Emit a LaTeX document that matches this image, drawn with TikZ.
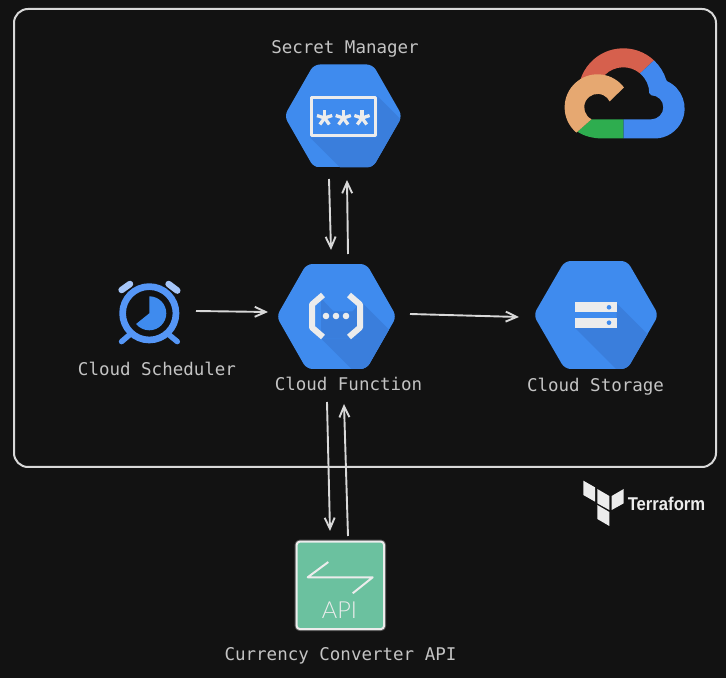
\documentclass[tikz,border=0pt]{standalone}
\usepackage{fontspec}
\usetikzlibrary{arrows.meta}
\setmonofont{DejaVu Sans Mono}
\newfontfamily\apifont{Lato Light}
\newfontfamily\tfont{Liberation Sans}
\definecolor{bgdark}{HTML}{121212}
\definecolor{framegray}{HTML}{D8D8D8}
\definecolor{labelgray}{HTML}{C4C4C4}
\definecolor{hexblue}{HTML}{3F8BEE}
\definecolor{hexshade}{HTML}{3A7EDC}
\definecolor{iconwhite}{HTML}{ECECEC}
\definecolor{clockblue}{HTML}{5596F6}
\definecolor{clockpale}{HTML}{A6C6F9}
\definecolor{gred}{HTML}{D6604D}
\definecolor{gblue}{HTML}{4188EE}
\definecolor{ggreen}{HTML}{2EAD4F}
\definecolor{gorange}{HTML}{E6A871}
\definecolor{apigreen}{HTML}{6BC19F}
\tikzset{
  boxlabel/.style={font=\ttfamily\fontsize{17.5}{20}\selectfont,text=labelgray,inner sep=0pt},
  flowarrow/.style={-{Straight Barb[length=11pt,width=10pt]},line width=1.9pt,color=framegray}
}
\newcommand{\hexicon}[8]{%
  \begin{scope}
    \clip[shift={(#1,#2)},rounded corners=6pt] (0,#4) -- ({#3/2},#4) -- (#3,0) -- ({#3/2},-#4) -- ({-#3/2},-#4) -- (-#3,0) -- ({-#3/2},#4) -- cycle;
    \fill[hexblue] (#1-#3,#2-#4) rectangle (#1+#3,#2+#4);
    \fill[hexshade,shift={(#1,#2)}] (#5,#6) -- (#5,#8) -- (#7,#8) -- ++(80,-80) -- ({#5+80},{#6-80}) -- cycle;
  \end{scope}}

\begin{document}
\begin{tikzpicture}[line join=round,x=1pt,y=1pt]
  \useasboundingbox (0,0) rectangle (726,678);
  \fill[bgdark] (0,0) rectangle (726,678);
  \draw[line width=2pt,color=framegray,rounded corners=14pt] (14,211) rectangle (716,669);

  % secret manager
  \hexicon{343.3}{562}{59}{51.5}{34}{20}{-33.3}{-21.3}
  \draw[line width=3.3pt,color=iconwhite] (311.7,542.3) rectangle (375.7,580.3);
  \foreach \sx in {324.6,343.3,362}
    \foreach \sa in {18,90,162,234,306}
      \draw[line width=3.3pt,color=iconwhite] (\sx,560) -- ++(\sa:8);
  \node[boxlabel] (secretlabel) at (345,629) {Secret Manager};

  % google cloud logo
  \begin{scope}[shift={(623.3,584.7)}]
    \fill[gred] (47:45) arc (47:163:45) -- (135:26) arc (135:50:26) -- cycle;
    \fill[gblue] (47:45) arc (47:17:45) -- (44,12) arc (65:-90:30) -- (0,-45.2) -- (0,-26) -- (28,-26) arc (-90:90:12) -- (26,0) arc (0:50:26) -- cycle;
    \fill[ggreen] (-46,-38.3) -- (-31.7,-26) -- (0,-26) -- (0,-45.2) -- (-20,-45.2) .. controls (-30,-45.2) and (-39,-43) .. (-46,-38.3) -- cycle;
    \fill[gorange,shift={(-25.7,-14)}] (37:33) arc (37:230:33) -- (243:13.4) arc (243:26:13.4) -- cycle;
  \end{scope}

  % cloud scheduler
  \begin{scope}[shift={(149.3,364.7)}]
    \draw[line width=6.5pt,line cap=round,color=clockpale] (-27.7,23.3) -- (-19.3,29.3);
    \draw[line width=6.5pt,line cap=round,color=clockpale] (19.3,29.3) -- (28,22.7);
    \draw[line width=5.5pt,line cap=round,color=clockblue] (-27.7,-28.3) -- (-20,-21.7);
    \draw[line width=5.5pt,line cap=round,color=clockblue] (20,-21.7) -- (28,-28.3);
    \fill[bgdark] (0,0) circle (28);
    \draw[line width=6.7pt,color=clockblue] (0,0) circle (26.7);
    \fill[hexblue] (0,0) -- (90:17) arc (90:-141:17) -- cycle;
  \end{scope}
  \node[boxlabel] (schedulerlabel) at (157,309) {Cloud Scheduler};

  % cloud function
  \hexicon{336.5}{361.5}{60}{52.5}{24.5}{14.8}{-15.5}{-21.8}
  \fill[hexshade,shift={(336.5,361.5)}] (-15.5,18.2) -- (-3,5) -- (16,5) -- (24.5,14.8) -- (24.5,-21.8) -- (-15.5,-21.8) -- cycle;
  \begin{scope}[shift={(336,362)}]
    \draw[line width=6pt,color=iconwhite] (-13,21) -- (-24,11.5) -- (-24,-11.5) -- (-13,-21);
    \draw[line width=6pt,color=iconwhite] (13,21) -- (24,11.5) -- (24,-11.5) -- (13,-21);
    \foreach \dx in {-10,0,10}
      \fill[iconwhite] (\dx,0) circle (3.3);
  \end{scope}
  \node[boxlabel] (functionlabel) at (348.5,294) {Cloud Function};

  % cloud storage
  \hexicon{596}{363}{62.5}{54}{20.7}{11.7}{-21}{-13}
  \fill[iconwhite] (574.7,365.7) rectangle (616.7,376);
  \fill[iconwhite] (574.7,350) rectangle (616.7,360.3);
  \fill[hexblue] (609,370.7) circle (2.3);
  \fill[hexblue] (609,355.3) circle (2.3);
  \node[boxlabel] (storagelabel) at (595.5,291) {Cloud Storage};

  % terraform
  \begin{scope}[shift={(570,208)},yscale=-1,x=1/3*1pt,y=1/3*1pt]
    \fill[iconwhite] (40,32) -- (75,52) -- (75,95) -- (40,75) -- cycle;
    \fill[iconwhite] (82,57) -- (118,78) -- (118,120) -- (82,100) -- cycle;
    \fill[iconwhite] (125,78) -- (161,57) -- (161,100) -- (125,120) -- cycle;
    \fill[iconwhite] (82,105) -- (118,126) -- (118,168) -- (82,147) -- cycle;
  \end{scope}
  \node[font=\tfont\bfseries\fontsize{18.5}{20}\selectfont,text=iconwhite,xscale=0.9,inner sep=0pt] (terraformlabel) at (666.5,174) {Terraform};

  % currency api
  \draw[line width=4pt,color=iconwhite,opacity=0.3,rounded corners=3pt] (296.7,49) rectangle (384,136.3);
  \draw[line width=2pt,color=iconwhite,fill=apigreen,rounded corners=3pt] (296.7,49) rectangle (384,136.3);
  \draw[line width=2pt,color=iconwhite] (328.3,116) -- (307.7,100.7) -- (372.7,100.7) -- (352.7,84.7);
  \node[font=\apifont\fontsize{23.5}{25}\selectfont,text=iconwhite,inner sep=0pt] (apitext) at (339.5,68) {API};
  \node[boxlabel] (apilabel) at (340.5,22) {Currency Converter API};

  % arrows
  \coordinate (secretdowna) at (329,499);
  \coordinate (secretdownb) at (331,428);
  \coordinate (secretupa) at (348,424);
  \coordinate (secretupb) at (347,498);
  \coordinate (schedulera) at (196,367);
  \coordinate (schedulerb) at (268,366);
  \coordinate (storagea) at (410,364);
  \coordinate (storageb) at (519,361);
  \coordinate (apidowna) at (327,276);
  \coordinate (apidownb) at (330,147);
  \coordinate (apiupa) at (348,142);
  \coordinate (apiupb) at (344,274);
  \draw[flowarrow] (secretdowna) -- (secretdownb);
  \draw[flowarrow] (secretupa) -- (secretupb);
  \draw[flowarrow] (schedulera) -- (schedulerb);
  \draw[flowarrow] (storagea) -- (storageb);
  \draw[flowarrow] (apidowna) -- (apidownb);
  \draw[flowarrow] (apiupa) -- (apiupb);
\end{tikzpicture}
\end{document}
